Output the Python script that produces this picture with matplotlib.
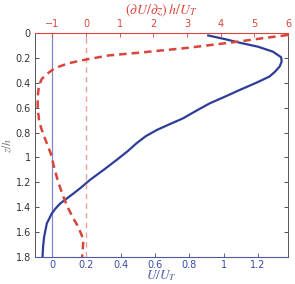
import matplotlib
matplotlib.use("Agg")
import matplotlib.pyplot as plt

plt.rcParams["mathtext.fontset"] = "stix"

# U/U_T profile (bottom axis)
z_u = [0.02, 0.05, 0.078, 0.11, 0.15, 0.195, 0.23, 0.27, 0.31, 0.35, 0.40, 0.458, 0.51, 0.565, 0.625, 0.685,
       0.73, 0.78, 0.83, 0.886, 0.95, 1.02, 1.10, 1.18, 1.24, 1.29, 1.33, 1.37, 1.41, 1.45, 1.53, 1.64, 1.72, 1.8]
u = [0.91, 1.01, 1.093, 1.20, 1.287, 1.335, 1.338, 1.326, 1.30, 1.267, 1.19, 1.093, 1.01, 0.919, 0.84, 0.764,
     0.69, 0.609, 0.545, 0.492, 0.44, 0.376, 0.30, 0.221, 0.17, 0.124, 0.085, 0.047, 0.02, -0.002, -0.031, -0.047, -0.053, -0.056]

# (dU/dz) h/U_T profile (top axis)
z_g = [0.016, 0.04, 0.07, 0.095, 0.12, 0.16, 0.18, 0.213, 0.244, 0.284, 0.33, 0.37, 0.42, 0.51,
       0.60, 0.70, 0.77, 0.83, 0.90, 0.97, 1.08, 1.18, 1.30, 1.40, 1.49, 1.56, 1.66, 1.8]
g = [6.0, 5.3, 4.5, 3.75, 3.0, 1.5, 0.68, 0.0, -0.54, -0.94, -1.17, -1.32, -1.40, -1.44,
     -1.44, -1.40, -1.33, -1.25, -1.15, -1.05, -0.95, -0.85, -0.70, -0.55, -0.38, -0.23, -0.08, -0.12]

blue = "#2E3D98"
red = "#D9453B"

fig = plt.figure(figsize=(2.95, 2.84), dpi=100)
ax = fig.add_axes([35/295, 1-257/284, (288-35)/295, (257-33)/284])
ax2 = ax.twiny()

ax.axvline(0, color="#8088cc", lw=0.9)
ax.plot(u, z_u, color=blue, lw=1.6)
ax2.axvline(0, color="#f0a09a", lw=1.0, ls=(0, (4, 3)))
ax2.plot(g, z_g, color=red, lw=1.8, ls=(0, (3, 2)))

ax.set_xlim(-0.1, 1.375)
ax.set_ylim(1.8, 0)
ax2.set_xlim(-1.52, 6.0)

ax.set_xticks([0, 0.2, 0.4, 0.6, 0.8, 1, 1.2])
ax.set_xticklabels(["0", "0.2", "0.4", "0.6", "0.8", "1", "1.2"])
ax.set_yticks([0, 0.2, 0.4, 0.6, 0.8, 1, 1.2, 1.4, 1.6, 1.8])
ax.set_yticklabels(["0", "0.2", "0.4", "0.6", "0.8", "1", "1.2", "1.4", "1.6", "1.8"])
ax2.set_xticks([-1, 0, 1, 2, 3, 4, 5, 6])
ax2.set_xticklabels(["\u22121", "0", "1", "2", "3", "4", "5", "6"])

ax.tick_params(axis="x", colors="#3a4aa0", labelsize=7, direction="in", length=3, width=0.6, pad=2)
ax.tick_params(axis="y", colors="#333333", labelsize=7, direction="in", length=3, width=0.6, right=True, pad=3)
ax2.tick_params(axis="x", colors=red, labelsize=7, direction="in", length=3, width=0.6, pad=3)

for s in ["left", "right"]:
    ax.spines[s].set_color("#555555")
    ax.spines[s].set_linewidth(0.7)
ax.spines["bottom"].set_color("#4a58a8")
ax.spines["bottom"].set_linewidth(0.8)
ax2.spines["top"].set_color(red)
ax2.spines["top"].set_linewidth(0.8)
for s in ["left", "right", "bottom"]:
    ax2.spines[s].set_visible(False)
ax.spines["top"].set_visible(False)

ax.set_xlabel(r"$U/U_T$", color="#4a58a8", fontsize=9.5, labelpad=-1)
ax.set_ylabel(r"$z/h$", color="#777777", fontsize=8.5, labelpad=1)
ax2.set_xlabel(r"$(\partial U/\partial z)\,h/U_T$", color=red, fontsize=10, labelpad=3)

fig.savefig("out.png", dpi=100)
